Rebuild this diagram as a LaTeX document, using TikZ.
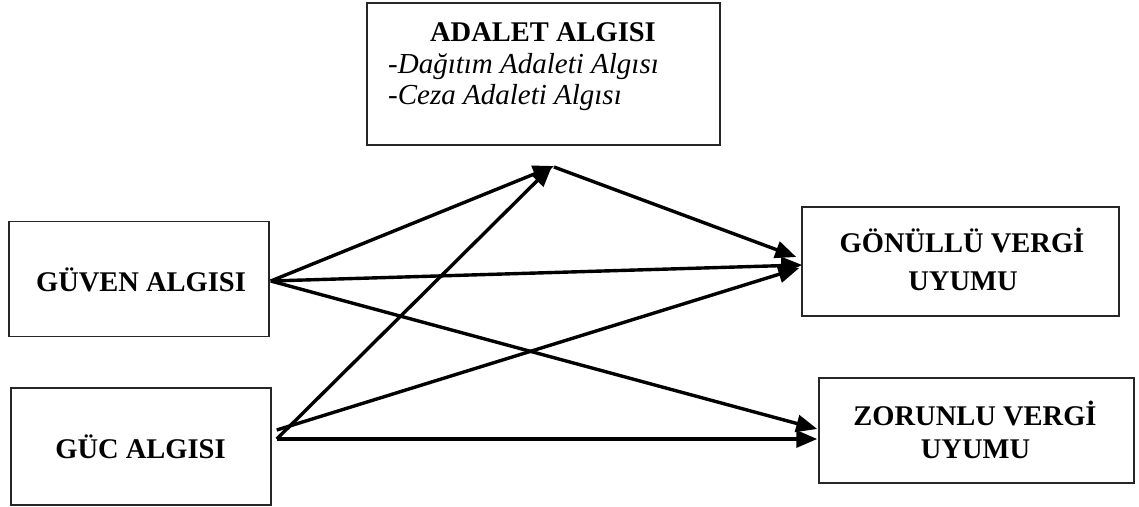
\documentclass[tikz,border=0pt]{standalone}
\usepackage{fontspec}
\setmainfont{Liberation Serif}
\usetikzlibrary{arrows.meta}
\begin{document}
\begin{tikzpicture}[x=1pt,y=-1pt,
  box/.style={draw=black!85, line width=1.5pt, inner sep=0pt},
  title/.style={font=\fontsize{28.5}{33}\selectfont\bfseries, anchor=base, inner sep=0pt},
  item/.style={font=\fontsize{29}{33}\selectfont\itshape, anchor=base west, inner sep=0pt},
  link/.style={line width=3.4pt, -{Triangle[length=21pt,width=17pt]}}
]
\useasboundingbox (0,0) rectangle (1139,506);

% boxes
\node[box, minimum width=353pt, minimum height=142pt] (adalet)  at (543.5,74) {};
\node[box, minimum width=260pt, minimum height=115pt] (guven)   at (139,279)  {};
\node[box, minimum width=260pt, minimum height=117pt] (guc)     at (141,446.5) {};
\node[box, minimum width=317pt, minimum height=109pt] (gonullu) at (960.5,261.5) {};
\node[box, minimum width=315pt, minimum height=105pt] (zorunlu) at (976.5,430.5) {};

% texts
\node[title] (tadalet) at (543,41)    {ADALET ALGISI};
\node[item]  (tdagitim) at (388,73)   {-Dağıtım Adaleti Algısı};
\node[item]  (tceza)    at (388,104)  {-Ceza Adaleti Algısı};
\node[title] (tguven)   at (141,291.5){GÜVEN ALGISI};
\node[title] (tguc)     at (140.5,458){GÜC ALGISI};
\node[title] (tgon1)    at (962,252)  {GÖNÜLLÜ VERGİ};
\node[title] (tgon2)    at (963,290)  {UYUMU};
\node[title] (tzor1)    at (975,425)  {ZORUNLU VERGİ};
\node[title] (tzor2)    at (975.5,458){UYUMU};

% point where the arrows into the justice box meet
\coordinate (apex) at (554,166);

% connectors
\draw[link] ([xshift=1pt,yshift=-2pt]guven.east) -- (apex);
\draw[link] ([xshift=5pt,yshift=7.5pt]guc.east) -- ([xshift=-2pt]apex);
\draw[link] ([yshift=-1pt]apex) -- ([xshift=-5pt,yshift=4.5pt]gonullu.west);
\draw[link] ([xshift=1pt,yshift=-2pt]guven.east) -- ([xshift=1pt,yshift=-3.5pt]gonullu.west);
\draw[link] ([xshift=5pt,yshift=16.5pt]guc.east) -- ([xshift=-2pt,yshift=-6.5pt]gonullu.west);
\draw[link] ([xshift=1pt,yshift=-2pt]guven.east) -- ([xshift=-1pt,yshift=1.5pt]zorunlu.west);
\draw[link] ([xshift=5pt,yshift=7.5pt]guc.east) -- ([xshift=-1pt,yshift=-8.5pt]zorunlu.west);
\end{tikzpicture}
\end{document}
